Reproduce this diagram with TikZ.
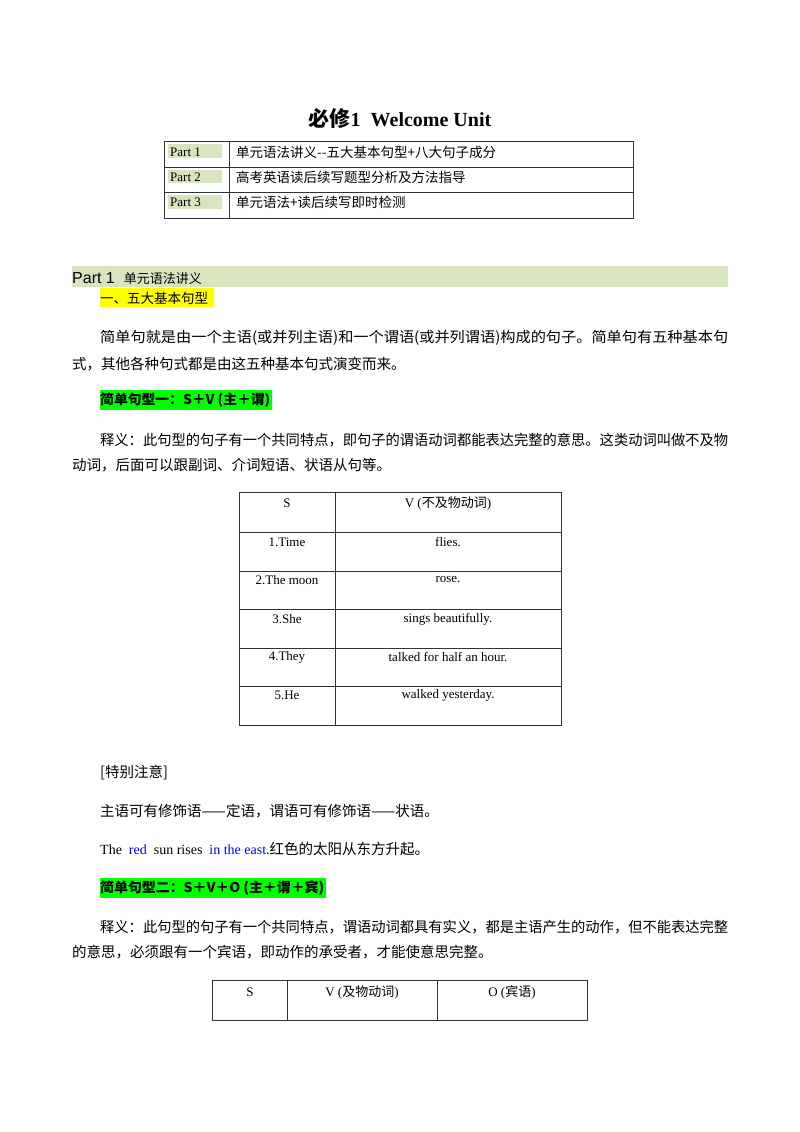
\documentclass[tikz,border=0pt]{standalone}
\usepackage{fontspec}
\usepackage{graphicx}
\setmainfont{Liberation Serif}
\setsansfont{Liberation Sans}
\newfontfamily\cjk{Noto Sans CJK SC}
\definecolor{barg}{HTML}{D7E4BD}
\definecolor{hlg}{HTML}{00FF00}
\definecolor{hly}{HTML}{FFFF00}
\definecolor{bl}{HTML}{0000FF}
\newcommand{\fitline}[1]{\resizebox{628pt}{\height}{#1}}
\begin{document}
\begin{tikzpicture}[x=1pt,y=-1pt,
  body/.style={anchor=west,inner sep=0pt,font=\fontsize{14.5}{16}\cjk},
  cell/.style={inner sep=0pt,font=\fontsize{13}{15}\selectfont},
  tl/.style={draw=black!80,line width=0.6pt}]
\useasboundingbox (0,0) rectangle (800,1132);
\fill[white] (0,0) rectangle (800,1132);
% title
\node[inner sep=0pt] (title) at (400,118) {\fontsize{20}{22}\selectfont\bfseries{\cjk\fontsize{21}{22}\selectfont 必修}1\ \ Welcome Unit};
% contents table
\fill[barg] (168,144) rectangle (222,158);
\fill[barg] (168,170) rectangle (222,183);
\fill[barg] (168,195) rectangle (222,209);
\draw[tl] (164,141) rectangle (633,218);
\draw[tl] (164,167) -- (633,167) (164,192) -- (633,192) (229,141) -- (229,218);
\node[cell,anchor=west] (p1) at (170,152) {Part 1};
\node[cell,anchor=west] (p2) at (170,177) {Part 2};
\node[cell,anchor=west] (p3) at (170,202) {Part 3};
\node[cell,anchor=west,font=\fontsize{13.5}{15}\cjk] (t1) at (236,152) {单元语法讲义--五大基本句型+八大句子成分};
\node[cell,anchor=west,font=\fontsize{13.5}{15}\cjk] (t2) at (236,177) {高考英语读后续写题型分析及方法指导};
\node[cell,anchor=west,font=\fontsize{13.5}{15}\cjk] (t3) at (236,202) {单元语法+读后续写即时检测};
% part bar
\fill[barg] (72,266) rectangle (728,287);
\node[anchor=base west,inner sep=0pt] (pb) at (72,283) {\fontsize{16}{18}\sffamily Part\ 1\ \ {\fontsize{13}{15}\cjk 单元语法讲义}};
\fill[hly] (100,288) rectangle (214,307);
\node[body,font=\fontsize{13.5}{15}\cjk] (h1) at (100,298) {一、五大基本句型};
% paragraph
\node[body] (l1) at (100,338) {\fitline{简单句就是由一个主语(或并列主语)和一个谓语(或并列谓语)构成的句子。简单句有五种基本句}};
\node[body] (l2) at (72,364) {式，其他各种句式都是由这五种基本句式演变而来。};
\fill[hlg] (100,390) rectangle (272,410);
\node[body,font=\fontsize{13.5}{15}\cjk\bfseries] (h2) at (100,400) {\resizebox{170pt}{\height}{简单句型一：S＋V (主＋谓)}};
\node[body] (l3) at (100,440) {\fitline{释义：此句型的句子有一个共同特点，即句子的谓语动词都能表达完整的意思。这类动词叫做不及物}};
\node[body] (l4) at (72,465) {动词，后面可以跟副词、介词短语、状语从句等。};
% table 1
\draw[tl] (239,492) rectangle (561,725);
\foreach \y in {532,571,609,648,686} \draw[tl] (239,\y) -- (561,\y);
\draw[tl] (335,492) -- (335,725);
\node[cell] (s0) at (287,503) {S};
\node[cell] (v0) at (448,503) {V ({\cjk 不及物动词})};
\node[cell] (s1) at (287,542) {1.Time};
\node[cell] (v1) at (448,542) {flies.};
\node[cell] (s2) at (287,580) {2.The moon};
\node[cell] (v2) at (448,580) {rose.};
\node[cell] (s3) at (287,619) {3.She};
\node[cell] (v3) at (448,619) {sings beautifully.};
\node[cell] (s4) at (287,657) {4.They};
\node[cell] (v4) at (448,657) {talked for half an hour.};
\node[cell] (s5) at (287,695) {5.He};
\node[cell] (v5) at (448,695) {walked yesterday.};
% notes
\node[body] (n1) at (100,773) {[特别注意]};
\node[body] (n2) at (100,811) {主语可有修饰语——定语，谓语可有修饰语——状语。};
\node[anchor=west,inner sep=0pt,font=\fontsize{14}{15}\selectfont] (n3) at (100,849) {The\ \ \textcolor{bl}{red}\ \ sun rises\ \ \textcolor{bl}{in the east}.{\cjk\fontsize{14.5}{15}\selectfont 红色的太阳从东方升起。}};
\fill[hlg] (100,878) rectangle (326,898);
\node[body,font=\fontsize{13.5}{15}\cjk\bfseries] (h3) at (100,888) {\resizebox{224pt}{\height}{简单句型二：S＋V＋O (主＋谓＋宾)}};
\node[body] (l5) at (100,927) {\fitline{释义：此句型的句子有一个共同特点，谓语动词都具有实义，都是主语产生的动作，但不能表达完整}};
\node[body] (l6) at (72,952) {的意思，必须跟有一个宾语，即动作的承受者，才能使意思完整。};
% table 2
\draw[tl] (212,980) rectangle (587,1020);
\draw[tl] (287,980) -- (287,1020) (437,980) -- (437,1020);
\node[cell] (a) at (250,992) {S};
\node[cell] (b) at (362,992) {V ({\cjk 及物动词})};
\node[cell] (c) at (512,992) {O ({\cjk 宾语})};
\end{tikzpicture}
\end{document}
